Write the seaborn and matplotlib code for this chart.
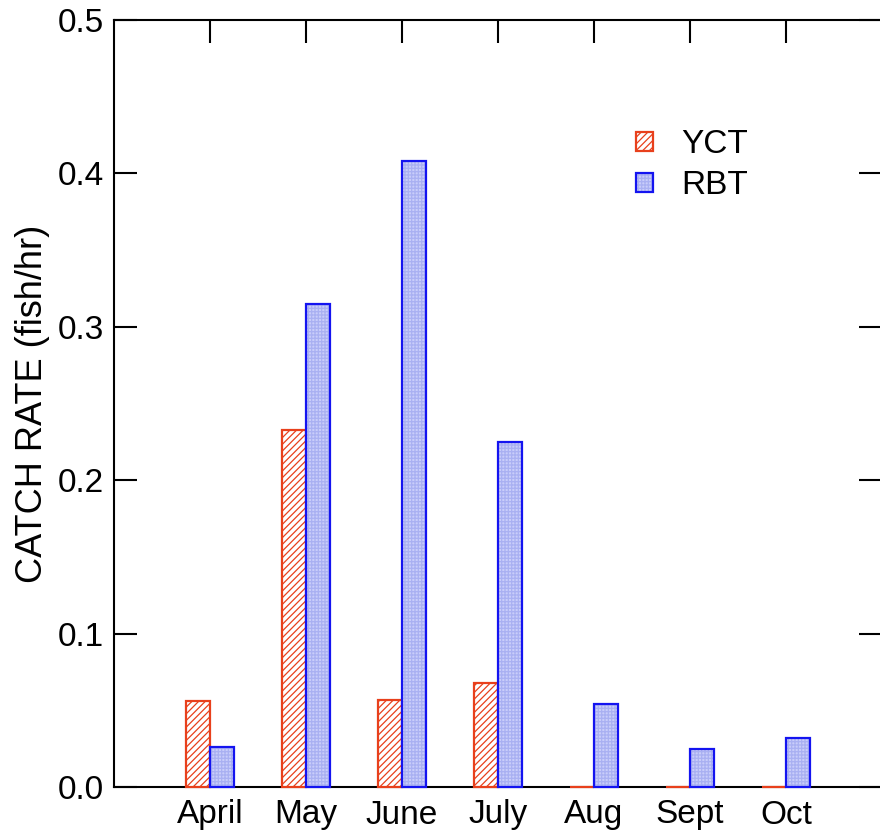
import matplotlib
matplotlib.use("Agg")
import matplotlib.pyplot as plt
import seaborn as sns
import pandas as pd
from matplotlib.legend_handler import HandlerTuple
from matplotlib.patches import Patch

months = ["April", "May", "June", "July", "Aug", "Sept", "Oct"]
species = ["YCT", "RBT"]
yct = [0.056, 0.233, 0.057, 0.068, 0.0, 0.0, 0.0]
rbt = [0.026, 0.315, 0.408, 0.225, 0.054, 0.025, 0.032]
yticks = [0.0, 0.1, 0.2, 0.3, 0.4, 0.5]

df = pd.DataFrame({
    "month": months * 2,
    "species": ["YCT"] * len(months) + ["RBT"] * len(months),
    "rate": yct + rbt,
})

sns.set_style("white")
plt.rcParams["font.family"] = ["Liberation Sans", "DejaVu Sans"]
plt.rcParams["hatch.linewidth"] = 0.9
plt.rcParams["text.color"] = "black"
plt.rcParams["axes.labelcolor"] = "black"

RED = "#e8401c"
BLUE = "#1414f0"
RBT_FILL = "#c9cdfa"
RBT_GRID = "#a9b0f2"
FS = 24

fig = plt.figure(figsize=(8.8, 8.4), dpi=100)
ax = fig.add_axes([114 / 880, 53 / 840, 768 / 880, 767 / 840])

# pass 1: fills and hatches
sns.barplot(data=df, x="month", y="rate", hue="species", order=months,
            hue_order=species, width=0.5, legend=False, ax=ax,
            palette=["white", RBT_FILL])
for p in ax.containers[0]:
    p.set_facecolor("white")
    p.set_edgecolor(RED)
    p.set_hatch("/////")
    p.set_linewidth(1.6)
    p.set_zorder(3)
    p.set_clip_on(False)
for p in ax.containers[1]:
    p.set_facecolor(RBT_FILL)
    p.set_edgecolor(RBT_GRID)
    p.set_hatch("+++++")
    p.set_linewidth(0)
    p.set_zorder(3)

# pass 2: RBT outlines
sns.barplot(data=df, x="month", y="rate", hue="species", order=months,
            hue_order=species, width=0.5, legend=False, ax=ax,
            palette=["white", RBT_FILL])
for p in ax.containers[2]:
    p.set_visible(False)
for p in ax.containers[3]:
    p.set_facecolor("none")
    p.set_edgecolor(BLUE)
    p.set_linewidth(1.6)
    p.set_zorder(3.1)
    p.set_clip_on(False)

ax.set_xlim(-1, 7)
ax.set_ylim(0, 0.5)
ax.set_yticks(yticks)
ax.set_yticklabels([f"{v:.1f}" for v in yticks])
ax.set_xlabel("")
ax.set_ylabel("CATCH RATE (fish/hr)", fontsize=26, labelpad=6, color="black")

for s in ["left", "top", "bottom", "right"]:
    ax.spines[s].set_linewidth(1.5)
    ax.spines[s].set_color("black")

ax.tick_params(axis="y", direction="in", left=True, right=True, length=16.5,
               width=1.5, labelsize=FS, pad=7, colors="black")
ax.tick_params(axis="x", direction="in", bottom=False, top=True, length=16.5,
               width=1.5, labelsize=FS, pad=9, labelbottom=True, labeltop=False,
               colors="black")

h_yct = Patch(facecolor="white", edgecolor=RED, hatch="/////", linewidth=1.6)
h_fill = Patch(facecolor=RBT_FILL, edgecolor=RBT_GRID, hatch="+++++", linewidth=0)
h_edge = Patch(facecolor="none", edgecolor=BLUE, linewidth=1.6)
leg = ax.legend([h_yct, (h_fill, h_edge)], species, loc="upper left",
                bbox_to_anchor=(0.680, 0.858), frameon=False, fontsize=FS,
                handlelength=0.5, handleheight=0.5, handletextpad=0.85,
                labelspacing=0.3, borderpad=0, borderaxespad=0,
                handler_map={tuple: HandlerTuple(ndivide=1, pad=0)})
for t in leg.get_texts():
    t.set_color("black")

fig.savefig("out.png", dpi=100)
